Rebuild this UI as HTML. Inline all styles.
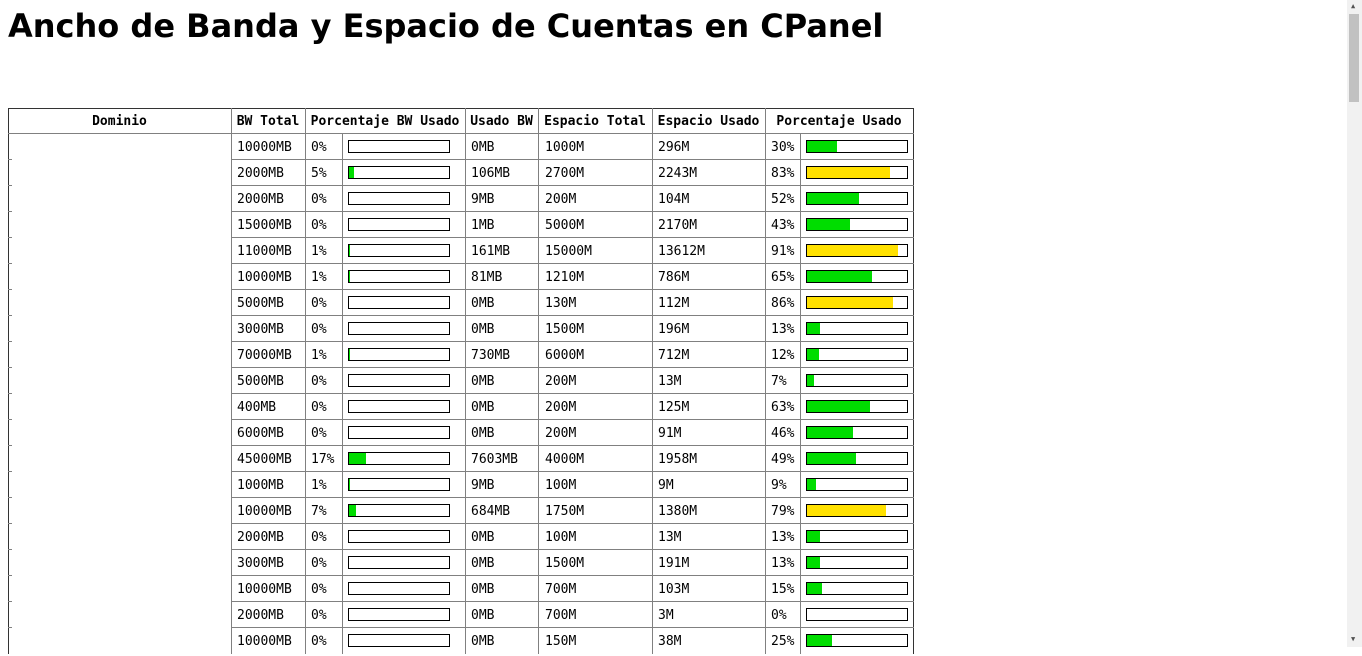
<!DOCTYPE html>
<html><head><meta charset="utf-8"><style>
body{margin:0;width:1362px;height:647px;overflow:hidden;background:#fff;position:relative;font-family:"DejaVu Sans Mono","Liberation Mono",monospace;font-size:13px;color:#000}
h1{position:absolute;left:8px;top:7px;margin:0;font:bold 32px "DejaVu Sans","Liberation Sans",sans-serif;white-space:nowrap}
.c{position:absolute;height:26px;line-height:28px;white-space:nowrap}
.l{position:absolute;background:#808080}
.bar{position:absolute;height:11px;border:1px solid #000;background:#fff;width:100px}
.fill{height:11px}
</style></head><body>
<h1>Ancho de Banda y Espacio de Cuentas en CPanel</h1>
<div id="t"></div>
<div style="position:absolute;left:1347px;top:0;width:15px;height:647px;background:#f1f1f1">
<div style="position:absolute;left:2px;top:14px;width:10px;height:88px;background:#c1c1c1"></div>
<div style="position:absolute;left:4px;top:3px;font-size:7px;line-height:7px;color:#505050">▲</div>
<div style="position:absolute;left:4px;top:636px;font-size:7px;line-height:7px;color:#505050">▼</div>
</div>
<script>
const bwTotal=["10000MB","2000MB","2000MB","15000MB","11000MB","10000MB","5000MB","3000MB","70000MB","5000MB","400MB","6000MB","45000MB","1000MB","10000MB","2000MB","3000MB","10000MB","2000MB","10000MB"];
const bwPct=[0,5,0,0,1,1,0,0,1,0,0,0,17,1,7,0,0,0,0,0];
const bwUsed=["0MB","106MB","9MB","1MB","161MB","81MB","0MB","0MB","730MB","0MB","0MB","0MB","7603MB","9MB","684MB","0MB","0MB","0MB","0MB","0MB"];
const diskTotal=["1000M","2700M","200M","5000M","15000M","1210M","130M","1500M","6000M","200M","200M","200M","4000M","100M","1750M","100M","1500M","700M","700M","150M"];
const diskUsed=["296M","2243M","104M","2170M","13612M","786M","112M","196M","712M","13M","125M","91M","1958M","9M","1380M","13M","191M","103M","3M","38M"];
const diskPct=[30,83,52,43,91,65,86,13,12,7,63,46,49,9,79,13,13,15,0,25];
const t=document.getElementById('t');
function el(cls,css,txt){const d=document.createElement('div');d.className=cls;d.style.cssText=css;if(txt!=null)d.textContent=txt;t.appendChild(d);return d;}
const top0=108,hh=26,rh=26,n=bwTotal.length;
const bottom=top0+hh+rh*n;
const heads=[["Dominio",8,231],["BW Total",231,305],["Porcentaje BW Usado",305,465],["Usado BW",465,538],["Espacio Total",538,652],["Espacio Usado",652,765],["Porcentaje Usado",765,913]];
heads.forEach(h=>{const d=el('c',`left:${h[1]}px;width:${h[2]-h[1]}px;top:${top0}px;text-align:center;font-weight:bold`,h[0]);

});
el('l',`left:8px;top:${top0}px;width:906px;height:1px;background:#333`);
el('l',`left:8px;top:${top0}px;width:1px;height:${bottom-top0}px;background:#333`);
el('l',`left:913px;top:${top0}px;width:1px;height:${bottom-top0}px;background:#333`);
el('l',`left:8px;top:${top0+hh-1}px;width:906px;height:1px`);
[231,305,465,538,652,765].forEach(x=>el('l',`left:${x}px;top:${top0}px;width:1px;height:${bottom-top0}px`));
[342,800].forEach(x=>el('l',`left:${x}px;top:${top0+hh}px;width:1px;height:${bottom-top0-hh}px`));
for(let i=0;i<n;i++){
 const y=top0+hh+rh*i;
 if(i>0){el('l',`left:231px;top:${y-1}px;width:683px;height:1px`);el('l',`left:8px;top:${y-1}px;width:4px;height:1px`);}
 const vals=[[bwTotal[i],237],[bwPct[i]+'%',311],[bwUsed[i],471],[diskTotal[i],545],[diskUsed[i],658],[diskPct[i]+'%',771]];
 vals.forEach(v=>{const d=el('c',`left:${v[1]}px;top:${y}px`,v[0]);
 
 });
 [[bwPct[i],348],[diskPct[i],806]].forEach(b=>{
  const bar=el('bar',`left:${b[1]}px;top:${y+6}px`);
  
  
  const f=document.createElement('div');f.className='fill';
  f.style.width=b[0]+'px';f.style.background=b[0]>=75?'#ffe100':'#00dd00';
  
  
  bar.appendChild(f);});
}
</script>
</body></html>
